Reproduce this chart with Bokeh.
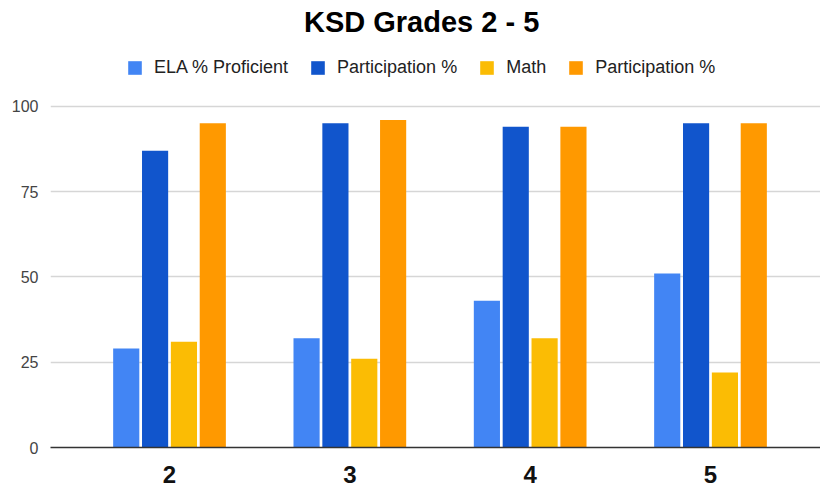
from bokeh.plotting import figure
from bokeh.models import ColumnDataSource, Range1d, FixedTicker, Label, Legend, LegendItem
from bokeh.transform import dodge
from bokeh.embed import file_html
from bokeh.resources import INLINE

# ---- data ----
grades = [2, 3, 4, 5]
grade_labels = {2: "2", 3: "3", 4: "4", 5: "5"}
ela_proficient = [29, 32, 43, 51]
ela_participation = [87, 95, 94, 95]
math_proficient = [31, 26, 32, 22]
math_participation = [95, 96, 94, 95]
series_names = ["ELA % Proficient", "Participation %", "Math", "Participation %"]
series_colors = ["#4285F4", "#1155CC", "#FBBC04", "#FF9900"]
y_ticks = [0, 25, 50, 75, 100]
title_text = "KSD Grades 2 - 5"

source = ColumnDataSource(dict(
    grade=grades,
    ela=ela_proficient,
    ela_part=ela_participation,
    math=math_proficient,
    math_part=math_participation,
))
cols = ["ela", "ela_part", "math", "math_part"]
offsets = [-0.24, -0.08, 0.08, 0.24]

FONT = "Liberation Sans"

p = figure(width=820, height=487, output_backend="svg", toolbar_location=None,
           x_range=Range1d(1.34, 5.61), y_range=Range1d(0, 131.0),
           min_border_left=50, min_border_right=0, min_border_top=0, min_border_bottom=40)
p.outline_line_color = None
p.background_fill_color = "white"
p.border_fill_color = "white"

renderers = []
for col, off, color in zip(cols, offsets, series_colors):
    r = p.vbar(x=dodge("grade", off, range=p.x_range), top=col, width=0.145,
               source=source, fill_color=color, line_color=None)
    renderers.append(r)

# axes
p.xaxis.ticker = FixedTicker(ticks=grades)
p.xaxis.major_label_overrides = grade_labels
p.xaxis.major_label_text_font = FONT
p.xaxis.major_label_text_font_size = "24px"
p.xaxis.major_label_text_font_style = "bold"
p.xaxis.major_label_text_color = "#111111"
p.xaxis.major_tick_line_color = None
p.xaxis.minor_tick_line_color = None
p.xaxis.axis_line_color = "#333333"
p.xaxis.axis_line_width = 1.5
p.xaxis.major_label_standoff = 12

p.yaxis.ticker = FixedTicker(ticks=y_ticks)
p.yaxis.major_label_text_font = FONT
p.yaxis.major_label_text_font_size = "16px"
p.yaxis.major_label_text_color = "#444444"
p.yaxis.major_tick_line_color = None
p.yaxis.minor_tick_line_color = None
p.yaxis.axis_line_color = None
p.yaxis.major_label_standoff = 6

p.xgrid.grid_line_color = None
p.ygrid.ticker = FixedTicker(ticks=y_ticks[1:])
p.ygrid.grid_line_color = "#d6d6d6"
p.ygrid.grid_line_width = 1.3

# title
title = Label(x=3.398, y=124.8, text=title_text, text_font=FONT, text_font_size="29px",
              text_font_style="bold", text_align="center", text_baseline="middle",
              text_color="#000000")
p.add_layout(title)

# legend
items = [LegendItem(label=n, renderers=[r]) for n, r in zip(series_names, renderers)]
legend = Legend(items=items, orientation="horizontal", location=(76, 369),
                glyph_width=17, glyph_height=17, label_standoff=11, spacing=21,
                label_text_font=FONT, label_text_font_size="18px",
                label_text_color="#222222", label_height=17,
                padding=0, margin=0, border_line_color=None,
                background_fill_alpha=0)
p.add_layout(legend, "center")

open("out.html", "w").write(file_html(p, INLINE))
